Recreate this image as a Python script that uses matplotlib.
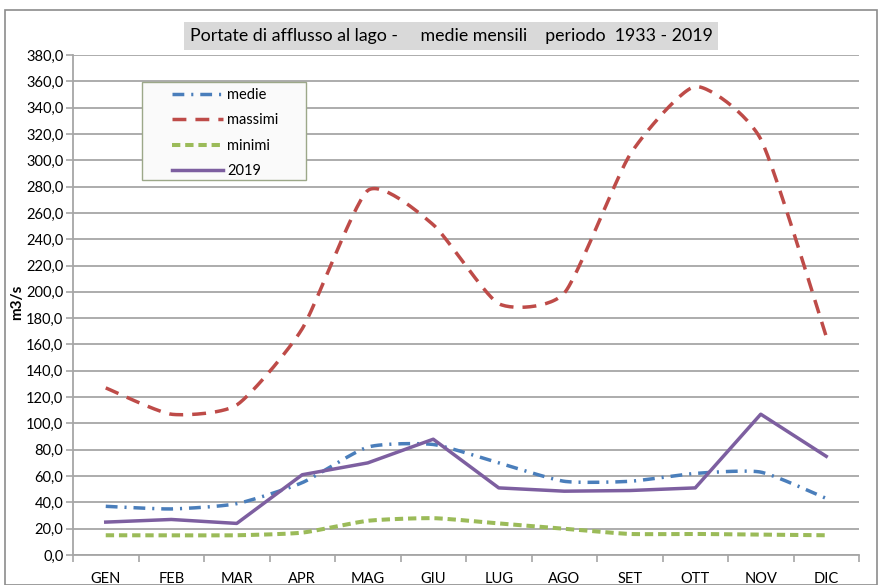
import numpy as np
import matplotlib
matplotlib.use("Agg")
import matplotlib.pyplot as plt
from matplotlib.patches import Rectangle
from matplotlib.ticker import FixedLocator

plt.rcParams['font.family'] = ['Lato', 'DejaVu Sans']
plt.rcParams['lines.scale_dashes'] = False

months = ["GEN", "FEB", "MAR", "APR", "MAG", "GIU", "LUG", "AGO", "SET", "OTT", "NOV", "DIC"]
medie = [37, 35, 39, 55, 82, 84, 70, 56, 56, 62, 63, 43]
massimi = [127, 107, 114, 172, 277, 251, 191, 199, 304, 356, 316, 166]
minimi = [15, 15, 15, 17, 26, 28, 24, 20, 16, 16, 15.5, 15]
anno2019 = [25, 27, 24, 61, 70, 88, 51, 48.5, 49, 51, 107, 75]

title = "Portate di afflusso al lago -     medie mensili    periodo  1933 - 2019"


def smooth(y, n=30, k=10.0):
    """Mildly smoothed line through the points (Bezier, Excel-like)."""
    y = np.asarray(y, float)
    x = np.arange(len(y), dtype=float)
    P = np.column_stack([x, y])
    out = []
    for i in range(len(P) - 1):
        p0 = P[i - 1] if i > 0 else P[i]
        p1 = P[i]
        p2 = P[i + 1]
        p3 = P[i + 2] if i + 2 < len(P) else P[i + 1]
        c1 = p1 + (p2 - p0) / k
        c2 = p2 - (p3 - p1) / k
        t = np.linspace(0, 1, n)[:, None]
        seg = ((1 - t) ** 3) * p1 + 3 * ((1 - t) ** 2) * t * c1 + 3 * (1 - t) * t ** 2 * c2 + t ** 3 * p2
        out.append(seg if i == 0 else seg[1:])
    s = np.vstack(out)
    return s[:, 0], s[:, 1]


W, H = 880, 585
fig = plt.figure(figsize=(8.8, 5.85), dpi=100)
ax = fig.add_axes([73 / W, 30 / H, 786 / W, 500 / H])

grid_c = "#A6A6A6"
ax.set_ylim(0, 380)
ax.set_xlim(-0.5, len(months) - 0.5)
ax.set_yticks(np.arange(0, 381, 20))
ax.set_yticklabels([f"{v:.1f}".replace(".", ",") for v in np.arange(0, 381, 20)])
ax.yaxis.grid(True, color=grid_c, linewidth=1.3)
ax.set_axisbelow(True)
ax.set_xticks(range(len(months)))
ax.set_xticklabels(months)
ax.xaxis.set_minor_locator(FixedLocator(np.arange(-0.5, len(months), 1)))
ax.tick_params(axis='x', which='major', length=0, pad=12, labelsize=10.5, colors="#000000")
ax.tick_params(axis='x', which='minor', length=5, color=grid_c, width=1.2)
ax.tick_params(axis='y', length=5, color=grid_c, width=1.2, labelsize=10.5, pad=2)
for side in ("top", "right"):
    ax.spines[side].set_visible(False)
for side in ("left", "bottom"):
    ax.spines[side].set_color(grid_c)
    ax.spines[side].set_linewidth(1.3)

c_medie = "#4A7EBB"
c_max = "#BE4B48"
c_min = "#9BBB59"
c_2019 = "#7D5FA0"
lw = 2.5

x, y = smooth(medie)
ax.plot(x, y, color=c_medie, lw=lw, dashes=(8.5, 5, 1.5, 5), label="medie")
x, y = smooth(massimi)
ax.plot(x, y, color=c_max, lw=lw, dashes=(10, 6.5), label="massimi")
x, y = smooth(minimi)
ax.plot(x, y, color=c_min, lw=lw + 0.4, dashes=(6, 3.5), label="minimi")
ax.plot(range(len(months)), anno2019, color=c_2019, lw=lw, label="2019")

# legend frame drawn separately (Excel-like wide box)
frame = Rectangle((142 / W, 1 - 180 / H), 164 / W, 98 / H, transform=fig.transFigure,
                  facecolor="#FAFAFA", edgecolor="#9CA889", linewidth=1.0, zorder=4)
ax.add_artist(frame)
frame.set_clip_on(False)

leg = ax.legend(loc="upper left", bbox_to_anchor=((172 - 73) / 786, (555 - 88) / 500),
                frameon=False, fontsize=10.5, handlelength=3.5,
                borderpad=0, labelspacing=0.78, handletextpad=0.3, borderaxespad=0)
leg.set_zorder(5)

ax.set_ylabel("m3/s", fontsize=11, fontweight="bold")
ax.yaxis.set_label_coords(-0.062, 0.505)

# title with gray box
fig.text(451 / W, 1 - 36 / H, title, ha="center", va="center", fontsize=12.8,
         bbox=dict(boxstyle="square,pad=0.32", facecolor="#D9D9D9", edgecolor="none"))

# outer chart border
fig.patches.append(Rectangle((5 / W, 0), 872 / W, 1 - 10 / H, transform=fig.transFigure,
                             fill=False, edgecolor="#8C8C8C", linewidth=1.2))

fig.savefig("out.png", dpi=100)
